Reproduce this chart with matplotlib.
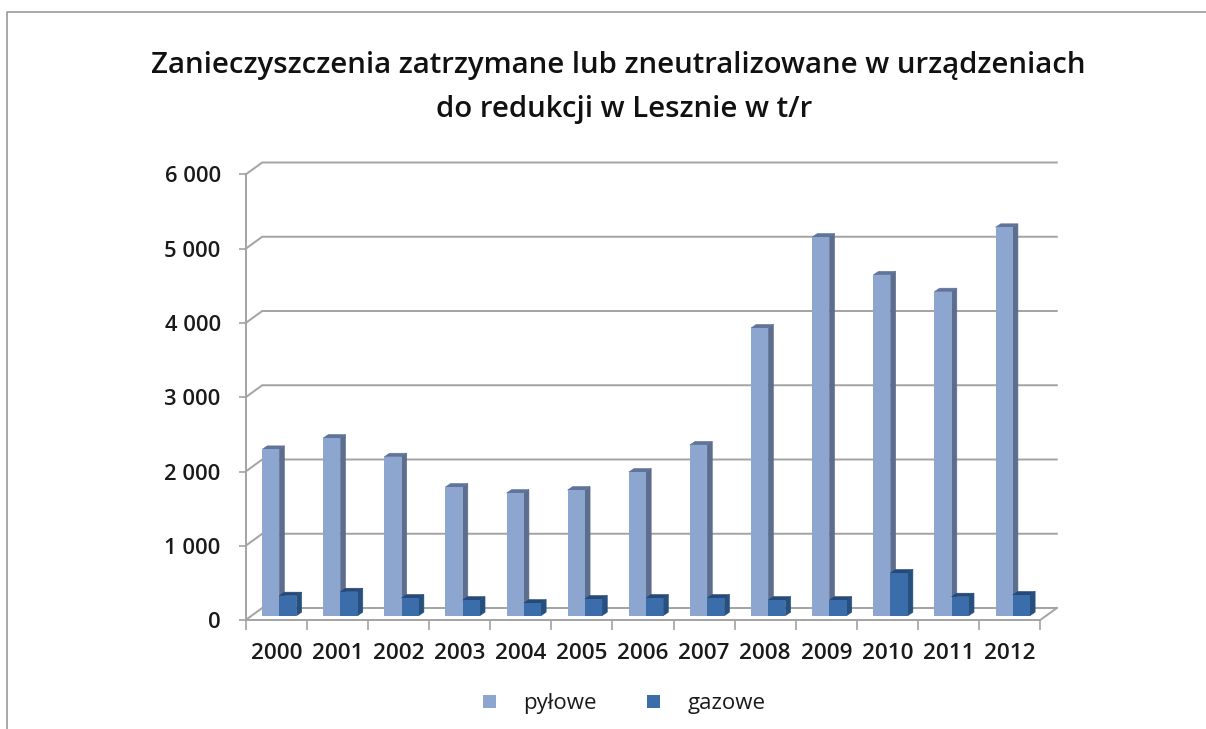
import matplotlib
matplotlib.use("Agg")
import matplotlib.pyplot as plt
from matplotlib.transforms import ScaledTranslation
from matplotlib.patches import Rectangle
from matplotlib.lines import Line2D

years = ["2000", "2001", "2002", "2003", "2004", "2005", "2006", "2007", "2008", "2009", "2010", "2011", "2012"]
pylowe = [2240, 2393, 2141, 1733, 1652, 1693, 1935, 2300, 3875, 5100, 4590, 4364, 5231]
gazowe = [270, 323, 238, 210, 170, 225, 238, 238, 210, 210, 575, 256, 279]
yticks = [0, 1000, 2000, 3000, 4000, 5000, 6000]
ylabels = ["0", "1 000", "2 000", "3 000", "4 000", "5 000", "6 000"]
title_lines = ["Zanieczyszczenia zatrzymane lub zneutralizowane w urządzeniach", "do redukcji w Lesznie w t/r"]
series_names = ["pyłowe", "gazowe"]

W, H = 1206, 729
FONT = "Open Sans"
plt.rcParams["font.family"] = [FONT, "DejaVu Sans"]
fig = plt.figure(figsize=(W / 100, H / 100), dpi=100, facecolor="white")
L, R, B, T = 245.7, 1040.3, 620.0, 174.5
ax = fig.add_axes([L / W, 1 - B / H, (R - L) / W, (B - T) / H])
ax.set_xlim(-0.5, 12.5)
ax.set_ylim(0, 6000)
ax.patch.set_alpha(0)

px_x = (R - L) / 13
px_y = (B - T) / 6000
GRID = "#a3a3a3"
back_dx, back_dy = 16.5 / px_x, 12 / px_y
for v in yticks:
    ax.plot([-0.5, -0.5 + back_dx, 12.5 + back_dx], [v, v + back_dy, v + back_dy],
            color=GRID, lw=1.4, clip_on=False, zorder=1, solid_joinstyle="miter")
ax.plot([12.5, 12.5 + back_dx], [0, back_dy], color=GRID, lw=1.4, clip_on=False, zorder=1)

offset = ax.transData + ScaledTranslation(3.0 / 100, 4.3 / 100, fig.dpi_scale_trans)
bw = 17.2 / px_x
dx, dy = 5.2 / px_x, 3.5 / px_y


def draw(i, v, x0, front, side, top):
    ax.fill([x0 + bw, x0 + bw + dx, x0 + bw + dx, x0 + bw], [0, dy, v + dy, v],
            facecolor=side, edgecolor=side, lw=0.4, transform=offset, zorder=3 + i, clip_on=False)
    ax.fill([x0, x0 + dx, x0 + bw + dx, x0 + bw], [v, v + dy, v + dy, v],
            facecolor=top, edgecolor=top, lw=0.4, transform=offset, zorder=3 + i, clip_on=False)
    ax.bar(x0, v, bw, align="edge", color=front, transform=offset, zorder=3 + i, clip_on=False)


for i, (p, g) in enumerate(zip(pylowe, gazowe)):
    draw(i, p, i - bw, "#8da6d0", "#5c6d8e", "#60739a")
    draw(i, g, i, "#3b6dab", "#27507f", "#25497a")

for s in ("top", "right"):
    ax.spines[s].set_visible(False)
for s in ("left", "bottom"):
    ax.spines[s].set_color(GRID)
    ax.spines[s].set_linewidth(1.4)
    ax.spines[s].set_zorder(2)

ax.set_yticks(yticks, ylabels, fontsize=15.8, fontweight="semibold", color="#1a1a1a")
ax.tick_params(axis="y", length=5, width=1.2, color=GRID, pad=13)
ax.set_xticks([i - 0.5 for i in range(14)], [""] * 14)
ax.tick_params(axis="x", which="major", length=7, width=1.2, color=GRID)
ax.set_xticks(range(13), years, minor=True, fontsize=16.2, fontweight="semibold", color="#1a1a1a")
ax.tick_params(axis="x", which="minor", length=0, pad=16.5)

for line, x, y in zip(title_lines, (618, 624), (66, 110)):
    fig.text(x / W, 1 - y / H, line, ha="center", va="center", fontsize=21.2,
             fontweight="semibold", color="#111111")

# legend
for name, col, mx, tx in zip(series_names, ("#8da6d0", "#3b6dab"), (483, 647), (523, 688)):
    fig.patches.append(Rectangle((mx / W, 1 - 708 / H), 13 / W, 13 / H, transform=fig.transFigure,
                                 facecolor=col, edgecolor="none"))
    fig.text(tx / W, 1 - 703 / H, name, ha="left", va="center", fontsize=16, color="#1a1a1a")

# outer frame: only the top and left edges show in the crop
fig.add_artist(Line2D([7 / W, 7 / W, 1], [0, 1 - 12 / H, 1 - 12 / H], color="#9a9a9a", lw=1.2,
                      transform=fig.transFigure))
fig.savefig("out.png", dpi=100)
